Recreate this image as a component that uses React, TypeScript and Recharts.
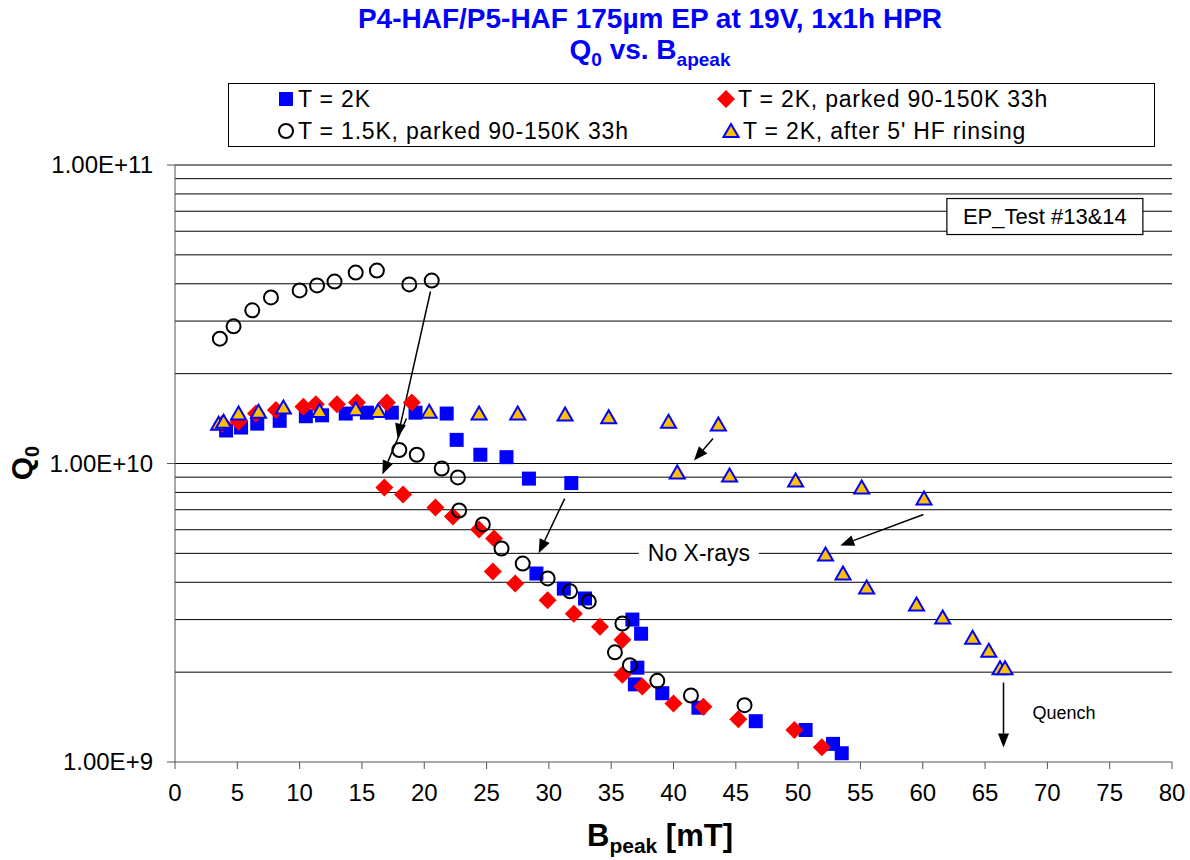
import React from 'react';
import { ScatterChart, Scatter, XAxis, YAxis, ReferenceLine, ReferenceDot } from 'recharts';

// T = 2K
const t2kB = [4.1, 5.3, 6.6, 8.4, 10.5, 11.8, 13.7, 15.4, 17.4, 19.3, 21.8, 22.6, 24.5, 26.6, 28.4, 31.8, 29.0, 31.2, 32.9, 36.7, 37.4, 37.1, 36.9, 39.1, 42.0, 46.6, 50.6, 52.8, 53.5];
const t2kQ = [1.29e10, 1.32e10, 1.36e10, 1.39e10, 1.44e10, 1.45e10, 1.47e10, 1.48e10, 1.48e10, 1.48e10, 1.47e10, 1.2e10, 1.07e10, 1.05e10, 8.9e9, 8.6e9, 4.28e9, 3.81e9, 3.53e9, 3.0e9, 2.69e9, 2.07e9, 1.82e9, 1.7e9, 1.52e9, 1.37e9, 1.28e9, 1.15e9, 1.07e9];

// T = 2K, parked 90-150K 33h
const parkedB = [3.8, 5.1, 6.5, 8.1, 10.3, 11.3, 13.0, 14.6, 17.0, 19.0, 16.8, 18.3, 20.9, 22.3, 24.4, 25.6, 25.5, 27.3, 29.9, 32.0, 34.1, 35.9, 35.9, 37.5, 40.0, 42.4, 45.2, 49.7, 51.9];
const parkedQ = [1.36e10, 1.38e10, 1.47e10, 1.51e10, 1.55e10, 1.58e10, 1.58e10, 1.6e10, 1.6e10, 1.6e10, 8.31e9, 7.87e9, 7.12e9, 6.65e9, 6.01e9, 5.61e9, 4.35e9, 3.96e9, 3.48e9, 3.14e9, 2.84e9, 2.57e9, 1.96e9, 1.79e9, 1.57e9, 1.53e9, 1.39e9, 1.28e9, 1.12e9];

// T = 1.5K, parked 90-150K 33h
const t15B = [3.6, 4.7, 6.2, 7.7, 10.0, 11.4, 12.8, 14.5, 16.2, 18.8, 20.6, 18.0, 19.4, 21.4, 22.7, 22.8, 24.7, 26.2, 27.9, 29.9, 31.7, 33.2, 35.9, 35.3, 36.5, 38.7, 41.4, 45.7];
const t15Q = [2.62e10, 2.88e10, 3.26e10, 3.6e10, 3.8e10, 3.95e10, 4.07e10, 4.36e10, 4.43e10, 3.98e10, 4.1e10, 1.11e10, 1.07e10, 9.62e9, 8.98e9, 6.96e9, 6.25e9, 5.19e9, 4.62e9, 4.12e9, 3.73e9, 3.45e9, 2.91e9, 2.33e9, 2.11e9, 1.87e9, 1.67e9, 1.55e9];

// T = 2K, after 5' HF rinsing
const hfB = [3.5, 3.9, 5.1, 6.7, 8.7, 11.6, 14.5, 16.3, 20.4, 24.4, 27.5, 31.3, 34.8, 39.6, 43.6, 40.3, 44.5, 49.8, 55.1, 60.1, 52.2, 53.6, 55.5, 59.5, 61.6, 64.0, 65.3, 66.2, 66.6];
const hfQ = [1.36e10, 1.38e10, 1.47e10, 1.49e10, 1.54e10, 1.5e10, 1.52e10, 1.5e10, 1.49e10, 1.47e10, 1.47e10, 1.46e10, 1.43e10, 1.38e10, 1.35e10, 9.33e9, 9.12e9, 8.77e9, 8.31e9, 7.63e9, 4.96e9, 4.28e9, 3.84e9, 3.37e9, 3.05e9, 2.61e9, 2.36e9, 2.06e9, 2.06e9];

const xTicks = [0, 5, 10, 15, 20, 25, 30, 35, 40, 45, 50, 55, 60, 65, 70, 75, 80];
const yTicks = [1e9, 1e10, 1e11];
const gridValues = [2e9, 3e9, 4e9, 5e9, 6e9, 7e9, 8e9, 9e9, 1e10, 2e10, 3e10, 4e10, 5e10, 6e10, 7e10, 8e10, 9e10, 1e11];

// annotation arrows: [fromB, fromQ, toB, toQ]
const arrows: [number, number, number, number][] = [
  [20.5, 3.77e10, 17.85, 1.22e10],
  [18.57, 1.415e10, 16.64, 9.19e9],
  [31.27, 7.63e9, 29.18, 5.0e9],
  [43.17, 1.213e10, 41.64, 1.023e10],
  [60.05, 6.75e9, 53.38, 5.31e9],
  [66.48, 1.846e9, 66.48, 1.118e9],
];

const zip = (xs: number[], ys: number[]) => xs.map((x, i) => ({ x, y: ys[i] }));

const FONT = '"Liberation Sans", Arial, Helvetica, sans-serif';
const BLUE = '#0000FF';
const RED = '#FF0000';
const GOLD = '#FFC000';

const SquareShape = (p: any) => <rect x={p.cx - 7} y={p.cy - 7} width={14} height={14} fill={BLUE} />;
const DiamondShape = (p: any) => (
  <polygon points={`${p.cx},${p.cy - 9} ${p.cx + 9},${p.cy} ${p.cx},${p.cy + 9} ${p.cx - 9},${p.cy}`} fill={RED} />
);
const CircleShape = (p: any) => <circle cx={p.cx} cy={p.cy} r={7} fill="none" stroke="#000" strokeWidth={2} />;
const TriangleShape = (p: any) => (
  <polygon
    points={`${p.cx},${p.cy - 7} ${p.cx + 7.5},${p.cy + 6} ${p.cx - 7.5},${p.cy + 6}`}
    fill={GOLD}
    stroke={BLUE}
    strokeWidth={2}
    strokeLinejoin="miter"
  />
);

const ArrowShape = (p: any) => {
  const { x1, y1, x2, y2 } = p;
  const ang = Math.atan2(y2 - y1, x2 - x1);
  const L = 14;
  const W = 5.5;
  const bx = x2 - L * Math.cos(ang);
  const by = y2 - L * Math.sin(ang);
  const px = -Math.sin(ang) * W;
  const py = Math.cos(ang) * W;
  return (
    <g>
      <line x1={x1} y1={y1} x2={bx} y2={by} stroke="#000" strokeWidth={1.5} />
      <polygon points={`${x2},${y2} ${bx + px},${by + py} ${bx - px},${by - py}`} fill="#000" />
    </g>
  );
};

const NoXrays = (p: any) => (
  <g>
    <rect x={p.cx - 60} y={p.cy - 14} width={120} height={28} fill="#fff" />
    <text x={p.cx} y={p.cy} textAnchor="middle" dominantBaseline="central" style={{ fontFamily: FONT, fontSize: '23px' }} fill="#000">
      No X-rays
    </text>
  </g>
);

const QuenchLabel = (p: any) => (
  <text x={p.cx} y={p.cy} textAnchor="start" dominantBaseline="central" style={{ fontFamily: FONT, fontSize: '18px' }} fill="#000">
    Quench
  </text>
);

const TestBox = (p: any) => (
  <g>
    <rect x={p.cx - 98} y={p.cy - 18} width={196} height={36} fill="#fff" stroke="#000" strokeWidth={1.2} />
    <text x={p.cx} y={p.cy} textAnchor="middle" dominantBaseline="central" style={{ fontFamily: FONT, fontSize: '22px' }} fill="#000">
      EP_Test #13&amp;14
    </text>
  </g>
);

const fmtQ = (v: number) => v.toExponential(2).toUpperCase();

const XTick = (p: any) => (
  <g>
    <text x={p.x} y={p.y} dy={28} textAnchor="middle" fill="#000" style={{ fontFamily: FONT, fontSize: '24px' }}>
      {p.payload.value}
    </text>
  </g>
);

const YTick = (p: any) => (
  <g>
    <text x={p.x} y={p.y} dy={8} textAnchor="end" fill="#000" style={{ fontFamily: FONT, fontSize: '24px' }}>
      {fmtQ(p.payload.value)}
    </text>
  </g>
);

const series = [
  { name: 'T = 2K', data: zip(t2kB, t2kQ), shape: SquareShape },
  { name: 'T = 2K, parked 90-150K 33h', data: zip(parkedB, parkedQ), shape: DiamondShape },
  { name: 'T = 1.5K, parked 90-150K 33h', data: zip(t15B, t15Q), shape: CircleShape },
  { name: "T = 2K, after 5' HF rinsing", data: zip(hfB, hfQ), shape: TriangleShape },
];

const LegendIcon = ({ idx }: { idx: number }) => {
  const s = series[idx];
  const Shape = s.shape;
  return (
    <svg width={18} height={18} style={{ verticalAlign: 'middle', marginRight: 3 }}>
      <Shape cx={9} cy={9} />
    </svg>
  );
};

const legendItem = (idx: number, left: number, top: number) => (
  <div
    key={idx}
    style={{
      position: 'absolute',
      left,
      top,
      display: 'flex',
      alignItems: 'center',
      whiteSpace: 'nowrap',
      fontFamily: FONT,
      fontSize: 23,
      letterSpacing: 0.8,
      color: '#000',
      height: 26,
    }}
  >
    <LegendIcon idx={idx} />
    <span>{series[idx].name}</span>
  </div>
);

export default function App() {
  return (
    <div style={{ position: 'relative', width: 1190, height: 860, background: '#fff', fontFamily: FONT }}>
      <style>{'body{margin:0;background:#fff;}'}</style>
      <ScatterChart width={1190} height={860} margin={{ top: 165, right: 18, bottom: 68, left: 95 }}>
        <XAxis
          type="number"
          dataKey="x"
          domain={[0, 80]}
          ticks={xTicks}
          interval={0}
          tickSize={7}
          tickMargin={4}
          height={30}
          stroke="#555"
          tick={XTick}
          allowDataOverflow
        />
        <YAxis
          type="number"
          dataKey="y"
          scale="log"
          domain={[1e9, 1e11]}
          ticks={yTicks}
          interval={0}
          tickSize={8}
          tickMargin={14}
          width={80}
          stroke="#555"
          tick={YTick}
          allowDataOverflow
        />
        {gridValues.map((v) => (
          <ReferenceLine key={v} y={v} stroke="#000" strokeWidth={1} />
        ))}
        <ReferenceDot x={42.04} y={5e9} r={0} shape={NoXrays} />
        {series.map((s) => (
          <Scatter key={s.name} name={s.name} data={s.data} shape={s.shape} isAnimationActive={false} />
        ))}
        {arrows.map((a, i) => (
          <ReferenceLine
            key={'arr' + i}
            segment={[
              { x: a[0], y: a[1] },
              { x: a[2], y: a[3] },
            ]}
            shape={ArrowShape}
          />
        ))}
        <ReferenceDot x={68.8} y={1.454e9} r={0} shape={QuenchLabel} />
        <ReferenceDot x={69.8} y={6.72e10} r={0} shape={TestBox} />
      </ScatterChart>

      {/* Titles */}
      <div
        style={{
          position: 'absolute',
          left: 250,
          width: 800,
          top: 3,
          textAlign: 'center',
          color: BLUE,
          fontWeight: 'bold',
          fontSize: 28,
          lineHeight: '32px',
        }}
      >
        P4-HAF/P5-HAF 175µm EP at 19V, 1x1h HPR
      </div>
      <div
        style={{
          position: 'absolute',
          left: 250,
          width: 800,
          top: 34,
          textAlign: 'center',
          color: BLUE,
          fontWeight: 'bold',
          fontSize: 28,
          lineHeight: '32px',
        }}
      >
        Q<sub style={{ fontSize: 19 }}>0</sub> vs. B<sub style={{ fontSize: 19 }}>apeak</sub>
      </div>

      {/* Legend */}
      <div
        style={{
          position: 'absolute',
          left: 228,
          top: 83,
          width: 927,
          height: 64,
          border: '1px solid #000',
          boxSizing: 'border-box',
          background: '#fff',
        }}
      >
        {legendItem(0, 48, 2)}
        {legendItem(1, 488, 2)}
        {legendItem(2, 48, 34)}
        {legendItem(3, 493, 34)}
      </div>

      {/* Axis titles */}
      <div
        style={{
          position: 'absolute',
          left: 460,
          width: 400,
          top: 818,
          textAlign: 'center',
          fontWeight: 'bold',
          fontSize: 31,
          lineHeight: '36px',
          color: '#000',
        }}
      >
        B<sub style={{ fontSize: 21 }}>peak</sub> [mT]
      </div>
      <div
        style={{
          position: 'absolute',
          left: 24,
          top: 463,
          transform: 'translate(-50%, -50%) rotate(-90deg)',
          fontWeight: 'bold',
          fontSize: 30,
          color: '#000',
          whiteSpace: 'nowrap',
        }}
      >
        Q<sub style={{ fontSize: 20 }}>0</sub>
      </div>
    </div>
  );
}
